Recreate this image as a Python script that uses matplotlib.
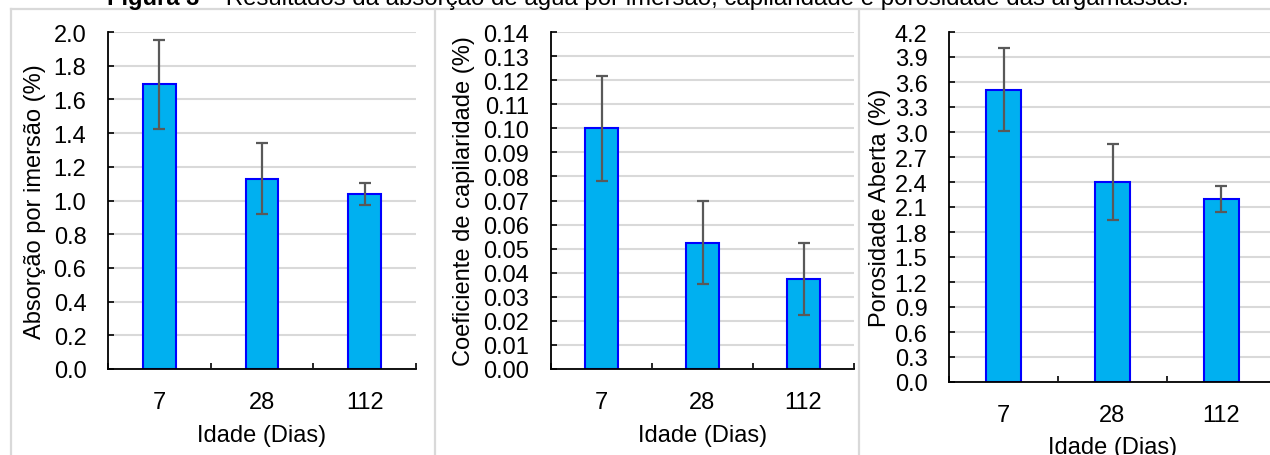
import numpy as np
import matplotlib
matplotlib.use('Agg')
import matplotlib.pyplot as plt
from matplotlib.lines import Line2D

plt.rcParams['font.family'] = ['Liberation Sans', 'DejaVu Sans']

# dados
idades = ['7', '28', '112']

absorcao = [1.69, 1.13, 1.04]
absorcao_err = [0.265, 0.21, 0.065]

capilaridade = [0.100, 0.0525, 0.0374]
capilaridade_err = [0.0217, 0.0172, 0.015]

porosidade = [3.51, 2.40, 2.20]
porosidade_err = [0.496, 0.452, 0.158]

W, H = 1270, 456
fig = plt.figure(figsize=(W / 100, H / 100), dpi=100)

FS = 17
GRID = '#d9d9d9'


def eixo(l, r, t, b):
    # posicao do eixo em pixels (origem no canto superior esquerdo)
    return fig.add_axes([l / W, 1 - b / H, (r - l) / W, (b - t) / H])


def painel(ax, vals, errs, ymax, step, fmt, ylabel):
    x = np.arange(len(idades))
    ax.set_axisbelow(True)
    ax.bar(x, vals, width=0.32, color='#00B0F0', edgecolor='#0000FF', linewidth=1.5,
           yerr=errs, error_kw=dict(ecolor='#595959', elinewidth=1.6, capsize=4.5, capthick=1.6))
    ax.set_xlim(-0.5, len(idades) - 0.5)
    ax.set_ylim(0, ymax)
    ax.set_yticks(np.arange(0, ymax + step / 2, step))
    ax.set_yticklabels([fmt % v for v in np.arange(0, ymax + step / 2, step)])
    ax.yaxis.grid(True, color=GRID, linewidth=1.5)
    ax.set_xticks(np.arange(len(idades) + 1) - 0.5)
    ax.set_xticklabels([])
    ax.set_xticks(x, minor=True)
    ax.set_xticklabels(idades, minor=True)
    ax.tick_params(axis='x', which='major', direction='in', length=4.5, width=1.2)
    ax.tick_params(axis='x', which='minor', length=0, pad=15.5, labelsize=FS)
    ax.tick_params(axis='y', direction='in', length=4, width=1.2, pad=15.5, labelsize=FS)
    for s in ['top', 'right']:
        ax.spines[s].set_visible(False)
    for s in ['left', 'bottom']:
        ax.spines[s].set_linewidth(1.3)
    ax.set_xlabel('Idade (Dias)', fontsize=FS)
    ax.set_ylabel(ylabel, fontsize=FS)


ax1 = eixo(108, 416, 33, 370)
painel(ax1, absorcao, absorcao_err, 2.0, 0.2, '%.1f', 'Absorção por imersão (%)')
ax1.xaxis.set_label_coords(0.5, -0.163)
ax1.yaxis.set_label_coords(-0.2, 0.5)

ax2 = eixo(551, 854, 33, 370)
painel(ax2, capilaridade, capilaridade_err, 0.14, 0.01, '%.2f', 'Coeficiente de capilaridade (%)')
ax2.xaxis.set_label_coords(0.5, -0.163)
ax2.yaxis.set_label_coords(-0.25, 0.5)

ax3 = eixo(949, 1276, 33, 383)
painel(ax3, porosidade, porosidade_err, 4.2, 0.3, '%.1f', 'Porosidade Aberta (%)')
ax3.xaxis.set_label_coords(0.5, -0.155)
ax3.yaxis.set_label_coords(-0.178, 0.5)

# molduras dos graficos
linhas = [([11, 1270], [10, 10]), ([11, 11], [10, 460]),
          ([435, 435], [10, 460]), ([859, 859], [10, 460])]
for xs, ys in linhas:
    fig.add_artist(Line2D([v / W for v in xs], [1 - v / H for v in ys],
                          color=GRID, linewidth=1.6, transform=fig.transFigure))

# titulo (cortado no topo)
fig.text(199 / W, 1 - 5 / H, 'Figura 3', ha='right', va='baseline',
         fontsize=FS, fontweight='bold')
fig.text(199 / W, 1 - 5 / H,
         ' – Resultados da absorção de água por imersão, capilaridade e porosidade das argamassas.',
         ha='left', va='baseline', fontsize=17.3)

fig.savefig('out.png', dpi=100)
